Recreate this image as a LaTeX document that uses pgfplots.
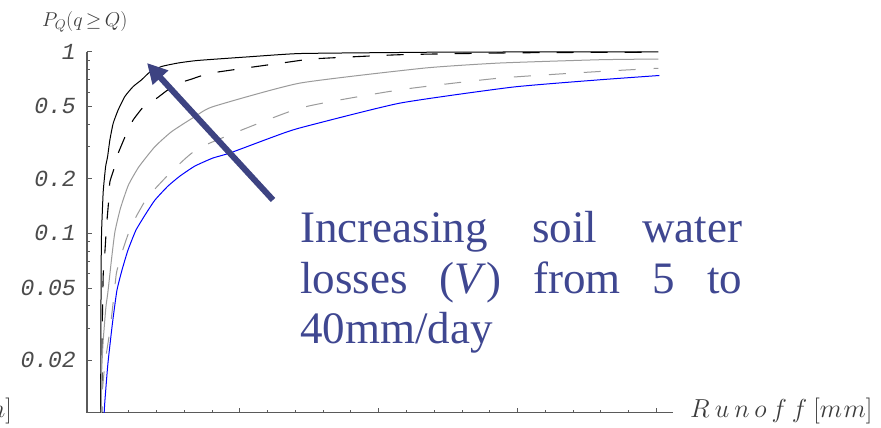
\RequirePackage{fix-cm}
\documentclass[border=0pt]{standalone}
\usepackage{fontspec}
\usepackage{pgfplots}
\pgfplotsset{compat=1.18}
\usetikzlibrary{arrows.meta}
\newfontfamily\annfont{Liberation Serif}
\newfontfamily\tickfont{Liberation Mono}
\definecolor{anncol}{RGB}{63,71,145}
\definecolor{arrcol}{RGB}{61,67,130}
\definecolor{axcol}{RGB}{90,90,90}
\definecolor{labcol}{RGB}{60,60,60}
\definecolor{ticklabcol}{RGB}{75,75,75}
\definecolor{curvegray}{RGB}{155,155,155}
\newcommand\sk{\kern5pt}
\begin{document}
\begin{tikzpicture}
\path[use as bounding box, fill=white] (0,0) rectangle (881pt,428pt);
\begin{axis}[
  at={(87pt,15.3pt)}, anchor=south west,
  scale only axis, width=586pt, height=361pt,
  xmin=-0.5, xmax=20.6, ymode=log, ymin=0.0103, ymax=1,
  axis x line=bottom, axis y line=left,
  axis line style={-, draw=axcol, line width=1.1pt},
  tick align=inside,
  xtick={0,5,10,15,20},
  minor xtick={1,2,3,4,6,7,8,9,11,12,13,14,16,17,18,19},
  xticklabels={},
  ytick={0.02,0.05,0.1,0.2,0.5,1},
  yticklabels={0.02, 0.05, 0.1, 0.2, 0.5, 1},
  minor ytick={0.03,0.04,0.06,0.07,0.08,0.09,0.3,0.4,0.6,0.7,0.8,0.9},
  major tick length=4.5pt, minor tick length=2.6pt,
  tick style={draw=axcol, line width=0.8pt},
  yticklabel style={font=\tickfont\itshape\fontsize{23}{26}\selectfont, text=ticklabcol, inner sep=0pt, xshift=-11pt},
]
\addplot[black, line width=1pt, smooth, tension=0.3] coordinates {
(-0.01,0.009)(0.0,0.03)(0.01,0.067)(0.025,0.102)(0.083,0.169)(0.169,0.232)(0.241,0.264)(0.324,0.327)(0.442,0.403)(0.622,0.478)(0.863,0.567)(1.162,0.643)(1.464,0.700)(1.763,0.773)(2.183,0.829)(2.770,0.866)(3.489,0.895)(5.36,0.938)(7.16,0.977)(10.76,0.990)(12.55,0.995)(16.15,0.997)(20.07,0.998)};
\addplot[black, line width=1.1pt, smooth, tension=0.3, dash pattern=on 17pt off 17pt] coordinates {
(0.03,0.009)(0.05,0.03)(0.083,0.0586)(0.144,0.0788)(0.205,0.1107)(0.288,0.156)(0.324,0.192)(0.504,0.2345)(0.622,0.2757)(0.924,0.3554)(1.162,0.421)(1.583,0.5076)(2.0,0.5528)(2.662,0.6571)(3.263,0.7064)(4.029,0.7655)(6.92,0.884)(7.52,0.9114)(10.76,0.9625)(14.35,0.9835)(16.5,0.99)(20.07,0.993)};
\addplot[curvegray, line width=1pt, smooth, tension=0.3] coordinates {
(0.01,0.009)(0.025,0.01686)(0.083,0.02564)(0.180,0.0392)(0.252,0.0474)(0.385,0.0725)(0.504,0.1017)(0.701,0.1369)(0.989,0.1842)(1.367,0.2324)(1.942,0.2998)(2.543,0.3628)(3.381,0.4390)(4.04,0.4986)(7.16,0.6715)(11.65,0.8126)(14.35,0.8662)(17.95,0.9032)(20.07,0.9114)};
\addplot[curvegray, line width=1pt, smooth, tension=0.3, dash pattern=on 17pt off 18pt] coordinates {
(0.02,0.009)(0.025,0.01195)(0.144,0.01913)(0.324,0.0291)(0.478,0.0466)(0.565,0.0611)(0.802,0.0823)(1.104,0.1107)(1.644,0.1554)(2.241,0.1963)(2.662,0.2278)(3.622,0.2998)(7.16,0.4887)(10.76,0.6166)(14.35,0.7155)(17.95,0.7782)(20.07,0.8106)};
\addplot[blue, line width=1pt, smooth, tension=0.3] coordinates {
(0.11,0.009)(0.119,0.0103)(0.144,0.01195)(0.252,0.01913)(0.414,0.0318)(0.576,0.0484)(0.755,0.0624)(0.971,0.0805)(1.259,0.1039)(1.583,0.1257)(1.942,0.1522)(2.410,0.1818)(2.842,0.2065)(3.381,0.2345)(4.029,0.2597)(4.640,0.2767)(6.187,0.339)(7.158,0.3803)(10.755,0.5207)(14.82,0.6383)(17.95,0.7003)(20.11,0.7397)};
\end{axis}
\draw[arrcol, line width=6pt, -{Triangle[length=20pt,width=20pt]}] (273pt,228pt) -- (147pt,365pt);
\node[anchor=base west, inner sep=0pt, text=anncol, font=\annfont\fontsize{45}{51}\selectfont] at (300pt,185pt) {\makebox[442pt][s]{Increasing soil water}};
\node[anchor=base west, inner sep=0pt, text=anncol, font=\annfont\fontsize{45}{51}\selectfont] at (300pt,134pt) {\makebox[442pt][s]{losses (\textit{V}) from 5 to}};
\node[anchor=base west, inner sep=0pt, text=anncol, font=\annfont\fontsize{45}{51}\selectfont] at (300pt,84pt) {40mm/day};
\node[anchor=base west, inner sep=0pt, text=labcol, font=\fontsize{20}{24}\selectfont] at (42pt,401pt) {$P_Q(q\mkern-2mu\geq\mkern-2mu Q)$};
\node[anchor=base west, inner sep=0pt, text=labcol, font=\fontsize{26}{30}\selectfont] at (690pt,10pt) {$R\sk u\sk n\sk o\sk f\sk f$\hspace{6pt}[$m\mkern1mu m$]};
\node[anchor=base east, inner sep=0pt, text=labcol, font=\fontsize{26}{30}\selectfont] at (12pt,10pt) {[$m\mkern1mu m$]};
\end{tikzpicture}
\end{document}
